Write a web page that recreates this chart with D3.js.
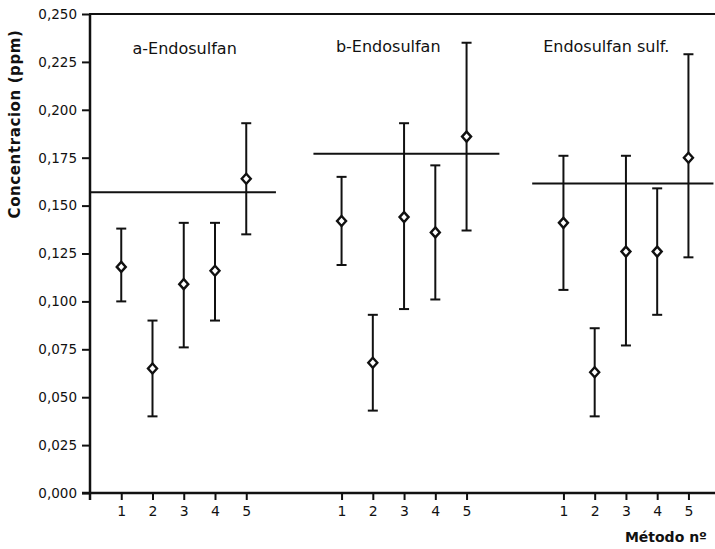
<!DOCTYPE html>
<meta charset="utf-8">
<style>
body { margin: 0; background: #fff; }
svg { display: block; }
.axis text { font: 13.5px "DejaVu Sans", sans-serif; fill: #111; }
.axis path, .axis line { stroke: #111; }
.label { font: 16px "DejaVu Sans", sans-serif; fill: #111; }
.title { font: bold 14px "DejaVu Sans", sans-serif; fill: #111; }
</style>
<body>
<script src="https://cdn.jsdelivr.net/npm/d3@7"></script>
<script>

// data
var groups = ["a-Endosulfan", "b-Endosulfan", "Endosulfan sulf."];
var methods = [1, 2, 3, 4, 5];
var meanVals = [
  [0.118, 0.065, 0.109, 0.116, 0.164],
  [0.142, 0.068, 0.144, 0.136, 0.186],
  [0.141, 0.063, 0.126, 0.126, 0.175]
];
var upperVals = [
  [0.138, 0.090, 0.141, 0.141, 0.193],
  [0.165, 0.093, 0.193, 0.171, 0.235],
  [0.176, 0.086, 0.176, 0.159, 0.229]
];
var lowerVals = [
  [0.100, 0.040, 0.076, 0.090, 0.135],
  [0.119, 0.043, 0.096, 0.101, 0.137],
  [0.106, 0.040, 0.077, 0.093, 0.123]
];
var refVals = [0.157, 0.177, 0.1615];
var yTicks = [0, 0.025, 0.05, 0.075, 0.1, 0.125, 0.15, 0.175, 0.2, 0.225, 0.25];

// layout (in method units)
var groupOffset = [0, 7.05, 14.15];
var refSpan = [[0, 5.95], [0.1, 6.05], [0, 5.8]];
var labelX = [1.36, 0.82, 0.35];
var labelY = [54, 52, 52];

var W = 715, H = 549;
var x0 = 90, y0 = 493, yTop = 14;

var svg = d3.select("body").append("svg")
    .attr("width", W)
    .attr("height", H);

var x = d3.scaleLinear().domain([0, 20]).range([x0, 715]);
var y = d3.scaleLinear().domain([0, 0.25]).range([y0, yTop]);

var fmt = function(d) { return d3.format(".3f")(d).replace(".", ","); };

// flatten points
var pts = [];
groups.forEach(function(g, gi) {
  methods.forEach(function(m, mi) {
    pts.push({g: gi, m: m, pos: groupOffset[gi] + m,
      mean: meanVals[gi][mi], hi: upperVals[gi][mi], lo: lowerVals[gi][mi]});
  });
});

// y axis
svg.append("g")
    .attr("class", "axis")
    .attr("transform", "translate(" + x0 + ",0)")
    .call(d3.axisLeft(y).tickValues(yTicks).tickFormat(fmt).tickSize(8).tickPadding(5).tickSizeOuter(0))
    .call(function(g) {
      g.select(".domain").attr("stroke-width", 2.5).attr("d", "M0," + (y0 + 7) + "V" + yTop);
      g.selectAll(".tick line").attr("stroke-width", 2);
    });

// x axis
var tickPos = pts.map(function(d) { return d.pos; });
svg.append("g")
    .attr("class", "axis")
    .attr("transform", "translate(0," + y0 + ")")
    .call(d3.axisBottom(x).tickValues(tickPos)
      .tickFormat(function(d, i) { return methods[i % 5]; })
      .tickSize(7).tickPadding(6).tickSizeOuter(0))
    .call(function(g) {
      g.select(".domain").attr("stroke-width", 2.5).attr("d", "M" + (x0 - 8) + ",0H" + W);
      g.selectAll(".tick line").attr("stroke-width", 2);
      g.selectAll(".tick text").style("font-size", "14px");
    });

// top frame line
svg.append("line")
    .attr("x1", x0 - 1).attr("x2", W)
    .attr("y1", yTop).attr("y2", yTop)
    .attr("stroke", "#111").attr("stroke-width", 2);

// reference lines
svg.selectAll(".ref")
    .data(refVals)
  .enter().append("line")
    .attr("class", "ref")
    .attr("x1", function(d, i) { return x(groupOffset[i] + refSpan[i][0]); })
    .attr("x2", function(d, i) { return x(groupOffset[i] + refSpan[i][1]); })
    .attr("y1", function(d) { return y(d); })
    .attr("y2", function(d) { return y(d); })
    .attr("stroke", "#111").attr("stroke-width", 2);

// error bars
var eb = svg.selectAll(".eb")
    .data(pts)
  .enter().append("g")
    .attr("class", "eb")
    .attr("stroke", "#111")
    .attr("stroke-width", 2);

eb.append("line")
    .attr("x1", function(d) { return x(d.pos); })
    .attr("x2", function(d) { return x(d.pos); })
    .attr("y1", function(d) { return y(d.hi); })
    .attr("y2", function(d) { return y(d.lo); });

eb.append("line")
    .attr("x1", function(d) { return x(d.pos) - 5; })
    .attr("x2", function(d) { return x(d.pos) + 5; })
    .attr("y1", function(d) { return y(d.hi); })
    .attr("y2", function(d) { return y(d.hi); });

eb.append("line")
    .attr("x1", function(d) { return x(d.pos) - 5; })
    .attr("x2", function(d) { return x(d.pos) + 5; })
    .attr("y1", function(d) { return y(d.lo); })
    .attr("y2", function(d) { return y(d.lo); });

eb.append("path")
    .attr("transform", function(d) { return "translate(" + x(d.pos) + "," + y(d.mean) + ")"; })
    .attr("d", "M0,-5L4.5,0L0,5L-4.5,0Z")
    .attr("fill", "#fff")
    .attr("stroke-width", 2.4);

// group labels
svg.selectAll(".label")
    .data(groups)
  .enter().append("text")
    .attr("class", "label")
    .attr("x", function(d, i) { return x(groupOffset[i] + labelX[i]); })
    .attr("y", function(d, i) { return labelY[i]; })
    .text(function(d) { return d; });

// axis titles
svg.append("text")
    .attr("class", "title")
    .attr("transform", "translate(20,124) rotate(-90)")
    .attr("text-anchor", "middle")
    .style("font-size", "15px")
    .style("letter-spacing", "0.6px")
    .text("Concentracion (ppm)");

svg.append("text")
    .attr("class", "title")
    .attr("x", 707)
    .attr("y", 542)
    .attr("text-anchor", "end")
    .text("Método nº");

</script>
</body>
